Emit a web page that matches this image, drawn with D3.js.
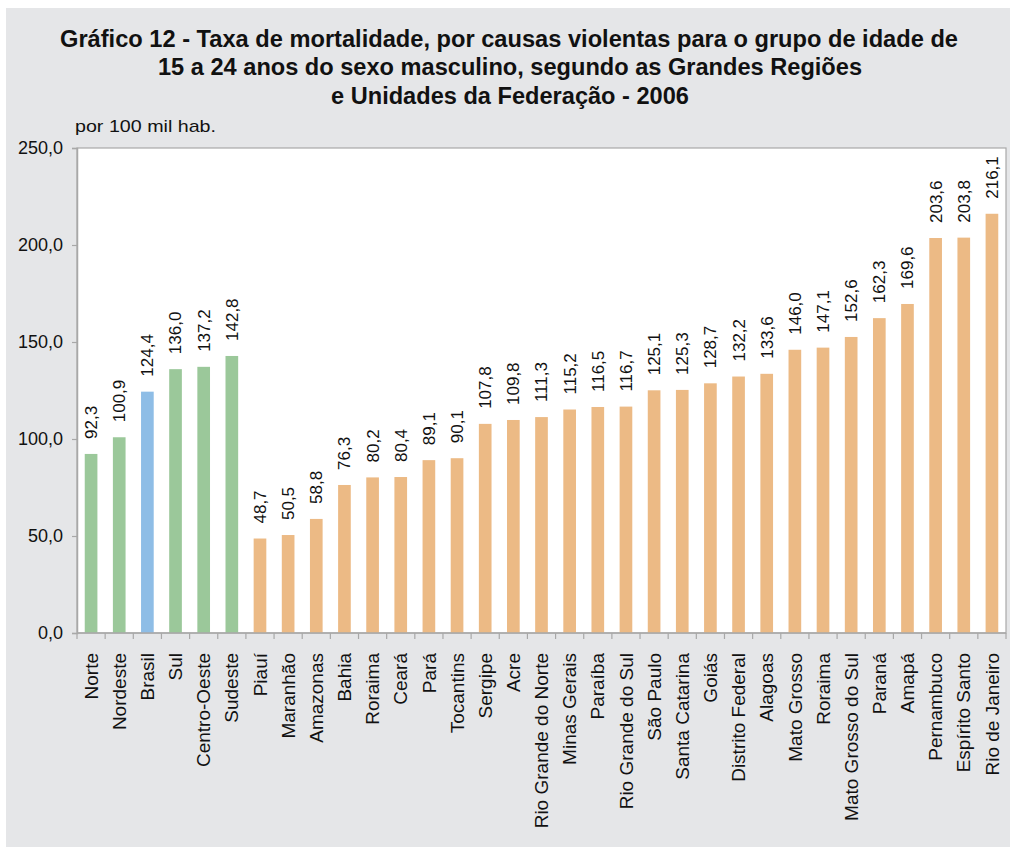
<!DOCTYPE html>
<html><head><meta charset="utf-8">
<script src="https://cdn.jsdelivr.net/npm/d3@7"></script>
<style>body{margin:0;background:#fff}svg{display:block}text{font-family:"Liberation Sans",Arial,sans-serif;fill:#111}</style>
</head><body><svg id="c" width="1010" height="847"></svg>
<script>
const categories = ["Norte","Nordeste","Brasil","Sul","Centro-Oeste","Sudeste","Piauí","Maranhão","Amazonas","Bahia","Roraima","Ceará","Pará","Tocantins","Sergipe","Acre","Rio Grande do Norte","Minas Gerais","Paraíba","Rio Grande do Sul","São Paulo","Santa Catarina","Goiás","Distrito Federal","Alagoas","Mato Grosso","Roraima","Mato Grosso do Sul","Paraná","Amapá","Pernambuco","Espírito Santo","Rio de Janeiro"];
const values = [92.3,100.9,124.4,136.0,137.2,142.8,48.7,50.5,58.8,76.3,80.2,80.4,89.1,90.1,107.8,109.8,111.3,115.2,116.5,116.7,125.1,125.3,128.7,132.2,133.6,146.0,147.1,152.6,162.3,169.6,203.6,203.8,216.1];
const groups = ["regiao","regiao","brasil","regiao","regiao","regiao"].concat(Array(27).fill("uf"));
const yTicks = [0,50,100,150,200,250];
const titleLines = ["Gráfico 12 - Taxa de mortalidade, por causas violentas para o grupo de idade de","15 a 24 anos do sexo masculino, segundo as Grandes Regiões","e Unidades da Federação - 2006"];
const unitLabel = "por 100 mil hab.";
const colors = {regiao:"#9bc89a", brasil:"#8ebde6", uf:"#ecba85"};

const svg = d3.select("#c");
svg.append("rect").attr("x",6).attr("y",8).attr("width",1004).attr("height",839).attr("fill","#e5e6e8");

const titleW = [898,704,358], titleX=[60,158,331], titleY=[47,75,104];
titleLines.forEach((t,i)=>{
  svg.append("text").attr("x",titleX[i]).attr("y",titleY[i]).attr("font-size",23).attr("font-weight","bold")
    .attr("textLength",titleW[i]).attr("lengthAdjust","spacingAndGlyphs").text(t);
});
svg.append("text").attr("x",75).attr("y",132).attr("font-size",17)
  .attr("textLength",141).attr("lengthAdjust","spacingAndGlyphs").text(unitLabel);

const L=77,R=1006,T=148,B=633;
const idx = categories.map((d,i)=>i);
const x = d3.scaleBand().domain(idx).range([L,R]).paddingInner(0.55).paddingOuter(0.275);
const xb = d3.scaleBand().domain(idx).range([L,R]);
const y = d3.scaleLinear().domain([0,250]).range([B,T]);

svg.append("rect").attr("x",L).attr("y",T).attr("width",R-L).attr("height",B-T).attr("fill","#fff").attr("stroke","#a8a8a8").attr("stroke-width",1.2);

svg.selectAll("rect.bar").data(values).join("rect").attr("class","bar")
  .attr("x",(d,i)=>x(i)).attr("width",x.bandwidth())
  .attr("y",d=>y(d)).attr("height",d=>y(0)-y(d)).attr("fill",(d,i)=>colors[groups[i]]);

const fmt = v=>d3.format(".1f")(v).replace(".",",");
// y axis
const ya = svg.append("g").attr("transform",`translate(${L},0)`).call(d3.axisLeft(y).tickValues(yTicks).tickSize(5).tickPadding(9).tickFormat(fmt));
ya.select(".domain").attr("stroke","#a8a8a8").attr("stroke-width",1.5);
ya.selectAll(".tick line").attr("stroke","#a8a8a8").attr("stroke-width",1.2);
ya.selectAll("text").attr("font-size",18).attr("font-family","Liberation Sans, Arial, sans-serif").attr("fill","#111");

// x axis ticks at band boundaries
const xa = svg.append("g").attr("transform",`translate(0,${B})`);
xa.append("line").attr("x1",L).attr("x2",R).attr("stroke","#a8a8a8").attr("stroke-width",1.5);
xa.selectAll("line.t").data(idx.concat([categories.length])).join("line").attr("class","t")
  .attr("x1",i=>i<categories.length?xb(i):R).attr("x2",i=>i<categories.length?xb(i):R)
  .attr("y1",0).attr("y2",6).attr("stroke","#a8a8a8").attr("stroke-width",1.2);
xa.selectAll("text").data(categories).join("text")
  .attr("transform",(d,i)=>`translate(${xb(i)+xb.bandwidth()/2},20) rotate(-90)`)
  .attr("text-anchor","end").attr("dy","0.35em").attr("font-size",19).text(d=>d);

// value labels
svg.selectAll("text.val").data(values).join("text").attr("class","val")
  .attr("transform",(d,i)=>`translate(${x(i)+x.bandwidth()/2},${y(d)-15}) rotate(-90)`)
  .attr("dy","0.35em").attr("font-size",17).text(d=>fmt(d));
</script></body></html>
